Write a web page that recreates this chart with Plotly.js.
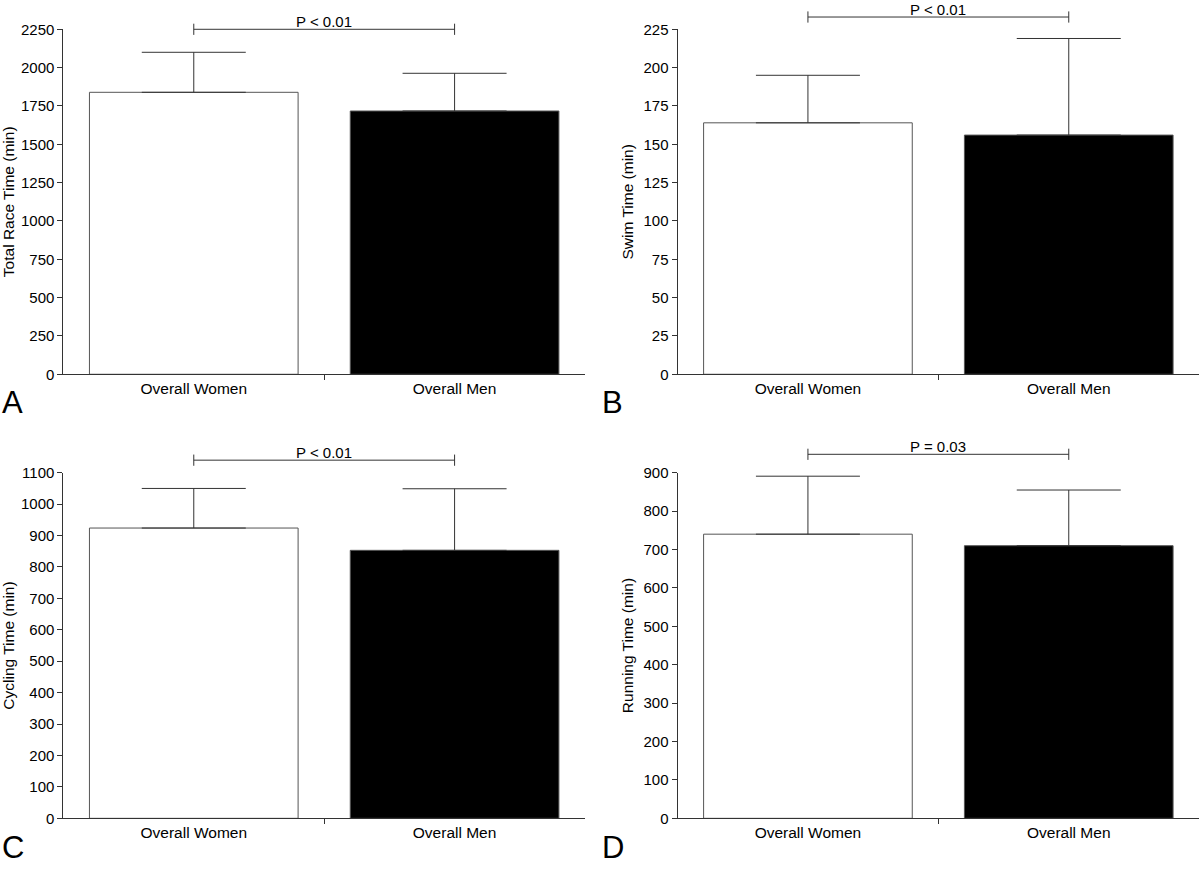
<!DOCTYPE html>
<html>
<head>
<meta charset="utf-8">
<script src="https://cdn.plot.ly/plotly-3.0.1.min.js"></script>
<style>
  html, body { margin: 0; padding: 0; background: #fff; }
  #chart { width: 1200px; height: 869px; }
</style>
</head>
<body>
<div id="chart"></div>
<script>
// groups compared in every panel
const groups = ['Overall Women', 'Overall Men'];

// means and SD (min)
const totalMean = [1839, 1717];
const totalSD = [261, 246];
const swimMean = [164, 156];
const swimSD = [31, 63];
const cycleMean = [924, 853];
const cycleSD = [126, 196];
const runMean = [740, 710];
const runSD = [151, 145];

const yTitles = ['Total Race Time (min)', 'Swim Time (min)', 'Cycling Time (min)', 'Running Time (min)'];
const pLabels = ['P < 0.01', 'P < 0.01', 'P < 0.01', 'P = 0.03'];
const bracketY = [2250, 233, 1140, 948];
const panelLetters = ['A', 'B', 'C', 'D'];

const yMax = [2250, 225, 1100, 900];
const yStep = [250, 25, 100, 100];

const means = [totalMean, swimMean, cycleMean, runMean];
const sds = [totalSD, swimSD, cycleSD, runSD];

const xDomains = [[0.0528, 0.4875], [0.5646, 0.9993], [0.0528, 0.4875], [0.5646, 0.9993]];
const yDomains = [[0.5693, 0.9663], [0.5693, 0.9663], [0.0583, 0.456], [0.0583, 0.456]];
// taller invisible axes (same units) so the brackets above each panel can be drawn
const bracketTop = [1.0, 1.0, 0.5, 0.5];
const letterY = [0.537, 0.537, 0.025, 0.025];

const ink = '#333';
const xPos = [0, 1];

let data = [];
let layout = {
    width: 1200,
    height: 869,
    margin: {l: 0, r: 0, t: 0, b: 0},
    paper_bgcolor: '#fff',
    plot_bgcolor: 'rgba(0,0,0,0)',
    showlegend: false,
    font: {family: '"Liberation Sans", Arial, sans-serif', size: 15, color: '#000'},
    annotations: []
};

for (let i = 0; i < 4; i++) {
    const n = i === 0 ? '' : String(i + 1);
    const xa = 'x' + n, ya = 'y' + n;
    const yb = 'y' + (i + 5);

    data.push({
        type: 'bar',
        x: xPos,
        y: means[i],
        width: 0.8,
        xaxis: xa,
        yaxis: ya,
        marker: {color: ['#fff', '#000'], line: {color: '#555', width: 1}},
        error_y: {type: 'data', symmetric: false, array: sds[i], arrayminus: [0, 0],
                  color: ink, thickness: 1, width: 52},
        hoverinfo: 'y'
    });

    // significance bracket over the two bars
    data.push({
        type: 'scatter',
        mode: 'lines+markers',
        x: xPos,
        y: [bracketY[i], bracketY[i]],
        xaxis: xa,
        yaxis: yb,
        cliponaxis: false,
        line: {color: ink, width: 1},
        marker: {symbol: 'line-ns', size: 8, line: {color: ink, width: 1}},
        hoverinfo: 'skip'
    });

    layout['xaxis' + n] = {
        domain: xDomains[i],
        anchor: ya,
        range: [-0.5, 1.5],
        tickmode: 'array',
        tickvals: xPos,
        ticktext: groups,
        ticks: '',
        tickfont: {size: 15.5},
        showline: true,
        linecolor: ink,
        linewidth: 1,
        showgrid: false,
        zeroline: false,
        fixedrange: true,
        minor: {tickmode: 'array', tickvals: [0.5], ticks: 'outside', ticklen: 5, tickcolor: ink, showgrid: false}
    };
    layout['yaxis' + n] = {
        domain: yDomains[i],
        anchor: xa,
        range: [0, yMax[i]],
        dtick: yStep[i],
        tick0: 0,
        ticks: 'outside',
        ticklen: 5,
        tickcolor: ink,
        tickfont: {size: 15},
        showline: true,
        linecolor: ink,
        linewidth: 1,
        showgrid: false,
        zeroline: false,
        fixedrange: true,
        title: {text: yTitles[i], font: {size: 15.5}, standoff: 6}
    };
    const d = yDomains[i];
    layout['yaxis' + (i + 5)] = {
        domain: [d[0], bracketTop[i]],
        anchor: xa,
        range: [0, yMax[i] * (bracketTop[i] - d[0]) / (d[1] - d[0])],
        visible: false,
        fixedrange: true
    };

    layout.annotations.push({
        xref: xa, yref: yb,
        x: 0.5, y: bracketY[i],
        yanchor: 'bottom',
        yshift: -3,
        text: pLabels[i],
        showarrow: false,
        font: {size: 15}
    });
    layout.annotations.push({
        xref: 'paper', yref: 'paper',
        x: i % 2 === 0 ? 0 : 0.5,
        xanchor: 'left',
        y: letterY[i],
        yanchor: 'middle',
        text: panelLetters[i],
        showarrow: false,
        font: {size: 31}
    });
}

Plotly.newPlot('chart', data, layout, {displayModeBar: false, staticPlot: true});
</script>
</body>
</html>
